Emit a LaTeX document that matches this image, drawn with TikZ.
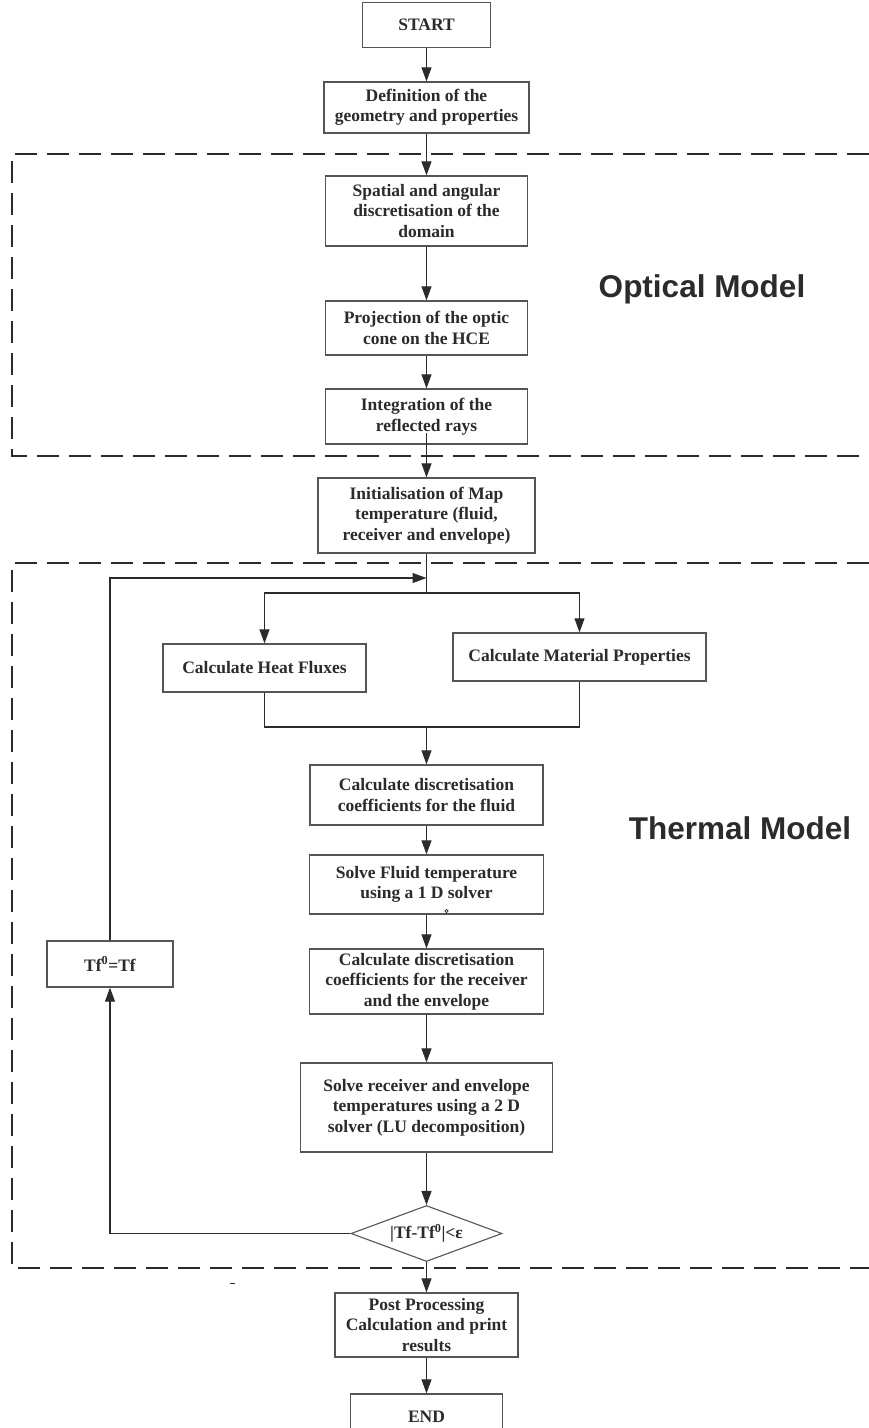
\documentclass[tikz,border=0pt]{standalone}
\usepackage{fontspec}
\setmainfont{Liberation Serif}
\newfontfamily\headfont{Liberation Sans}
\usetikzlibrary{shapes.geometric,arrows.meta}
\definecolor{ink}{HTML}{2B2B2B}
\definecolor{frame}{HTML}{555555}
\begin{document}
\begin{tikzpicture}[x=1pt,y=-1pt,
  box/.style={draw=frame, line width=1.3pt, fill=white, align=center, inner sep=2pt,
    font=\fontsize{17.5}{20.5}\selectfont\bfseries, text=ink},
  conn/.style={draw=ink, line width=1.1pt},
  arr/.style={conn, -{Triangle[length=14pt,width=10pt]}},
  zone/.style={draw=ink, line width=1.2pt, dash pattern=on 22pt off 10pt},
  modellabel/.style={font=\headfont\fontsize{31.5}{36}\selectfont\bfseries, text=ink}]
\useasboundingbox (0,0) rectangle (869,1428);

% dashed zones
\draw[zone] (869,154) -- (12,154) -- (12,456) -- (869,456);
\draw[zone] (869,563) -- (12,563) -- (12,1268) -- (869,1268);

% labels of zones
\node[modellabel] (optlabel) at (702,289) {Optical Model};
\node[modellabel] (thlabel) at (740,828) {Thermal Model};

% nodes
\node[box, minimum width=128pt, minimum height=45pt] (start) at (426.5,25) {START};
\node[box, minimum width=205pt, minimum height=51pt] (defn) at (426.5,107.5) {Definition of the\\geometry and properties};
\node[box, minimum width=202pt, minimum height=70pt] (spatial) at (426.5,211) {Spatial and angular\\discretisation of the\\domain};
\node[box, minimum width=202pt, minimum height=54pt] (proj) at (426.5,328) {Projection of the optic\\cone on the HCE};
\node[box, minimum width=202pt, minimum height=55pt] (integ) at (426.5,416.5) {Integration of the\\reflected rays};
\node[box, minimum width=217pt, minimum height=75pt] (init) at (426.5,515.5) {Initialisation of Map\\temperature (fluid,\\receiver and envelope)};
\node[box, minimum width=203pt, minimum height=48pt] (heat) at (264.5,668) {Calculate Heat Fluxes};
\node[box, minimum width=253pt, minimum height=48pt] (matprop) at (579.5,657) {Calculate Material Properties};
\node[box, minimum width=233pt, minimum height=60pt] (cfluid) at (426.5,795) {Calculate discretisation\\coefficients for the fluid};
\node[box, minimum width=234pt, minimum height=59pt] (sfluid) at (426.5,884.5) {Solve Fluid temperature\\using a 1 D solver};
\node[box, minimum width=234pt, minimum height=65pt] (crecv) at (426.5,981.5) {Calculate discretisation\\coefficients for the receiver\\and the envelope};
\node[box, minimum width=252pt, minimum height=89pt] (srecv) at (426.5,1107.5) {Solve receiver and envelope\\temperatures using a 2 D\\solver (LU decomposition)};
\node[draw=frame, line width=1.1pt, fill=white, shape=diamond, aspect=2.7,
  minimum width=151pt, minimum height=56pt, inner sep=0pt,
  font=\fontsize{17.5}{20.5}\selectfont\bfseries, text=ink] (diam) at (426.5,1233.5) {|Tf-Tf\textsuperscript{0}|<ε};
\node[box, minimum width=126pt, minimum height=46pt] (tfbox) at (110,964) {Tf\textsuperscript{0}=Tf};
\node[box, minimum width=183pt, minimum height=64pt] (post) at (426.5,1325) {Post Processing\\Calculation and print\\results};
\node[box, minimum width=152pt, minimum height=46pt] (endb) at (426.5,1417) {END};

% small marks
\draw[ink, line width=0.6pt] (446.5,911) circle (1.6pt);
\draw[ink, line width=1pt] (230,1283) -- (235,1283);

% helper coordinates
\coordinate (split) at (426.5,593);
\coordinate (merge) at (426.5,727);
\coordinate (join) at (426.5,578);

% connectors
\draw[arr] (start) -- (defn);
\draw[arr] (defn) -- (spatial);
\draw[arr] (spatial) -- (proj);
\draw[arr] (proj) -- (integ);
\draw[arr] ([yshift=12pt]integ.south) -- (init.north);
\draw[conn] (init.south) -- (split);
\draw[arr] (split) -| (heat.north);
\draw[arr] (split) -| (matprop.north);
\draw[conn] (heat.south) |- (merge);
\draw[conn] (matprop.south) |- (merge);
\draw[arr] (merge) -- (cfluid.north);
\draw[arr] (cfluid) -- (sfluid);
\draw[arr] (sfluid) -- (crecv);
\draw[arr] (crecv) -- (srecv);
\draw[arr] (srecv) -- (diam);
\draw[arr] (diam) -- (post);
\draw[arr] (post) -- (endb);
\draw[arr] (diam.west) -| (tfbox.south);
\draw[arr] (tfbox.north) |- (join);
\end{tikzpicture}
\end{document}
